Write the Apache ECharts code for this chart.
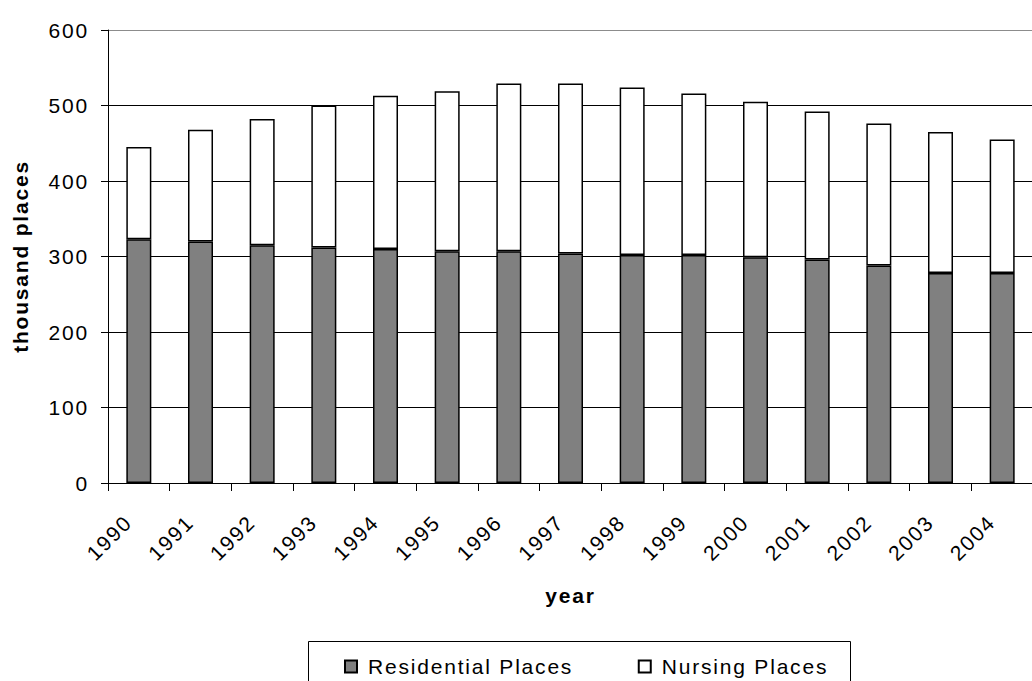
<!DOCTYPE html>
<html>
<head>
<meta charset="utf-8">
<script src="https://cdn.jsdelivr.net/npm/echarts@6/dist/echarts.min.js"></script>
<style>
  html, body { margin: 0; padding: 0; background: #fff; }
  #chart { width: 1032px; height: 681px; }
  /* the original text is set a little loose */
  #chart text { letter-spacing: 1.8px; }
</style>
</head>
<body>
<div id="chart"></div>
<script>
// years on the x axis
var years = ['1990', '1991', '1992', '1993', '1994', '1995', '1996', '1997',
             '1998', '1999', '2000', '2001', '2002', '2003', '2004'];
// thousand places
var residential = [323, 320, 315, 312, 310, 307, 307, 304, 302, 302, 299, 296, 288, 278, 278];
var nursing     = [122, 148, 167, 188, 203, 212, 222, 225, 222, 214, 206, 196, 188, 187, 177];
// y axis ticks
var yMin = 0, yMax = 600, yStep = 100;

var font = 'Liberation Sans, Arial, sans-serif';
var fs = 21;

var chart = echarts.init(document.getElementById('chart'), null, { renderer: 'svg' });

var option = {
    animation: false,
    backgroundColor: '#fff',
    textStyle: { fontFamily: font, color: '#000' },
    grid: {
        left: 108,
        top: 30,
        width: 925,
        height: 453,
        outerBoundsMode: 'none'
    },
    legend: {
        left: 344,
        top: 656,
        padding: 0,
        itemWidth: 12,
        itemHeight: 12,
        itemGap: 97,
        icon: 'rect',
        textStyle: { fontFamily: font, fontSize: fs, color: '#000', padding: [0, 0, 0, 6] },
        data: ['Residential Places', 'Nursing Places']
    },
    graphic: [{
        type: 'rect',
        z: -1,
        shape: { x: 308.5, y: 641.5, width: 542, height: 60 },
        style: { fill: 'none', stroke: '#000', lineWidth: 1 }
    }],
    xAxis: {
        type: 'category',
        data: years,
        name: 'year',
        nameLocation: 'middle',
        nameGap: 102,
        nameMoveOverlap: false,
        nameTextStyle: { fontFamily: font, fontSize: fs, fontWeight: 'bold', color: '#000', verticalAlign: 'top' },
        axisLine: { lineStyle: { color: '#000', width: 1 } },
        axisTick: { show: true, length: 8, lineStyle: { color: '#000' } },
        axisLabel: {
            interval: 0,
            rotate: 45,
            margin: 25,
            padding: [0, 15, 0, 0],
            fontFamily: font,
            fontSize: fs,
            color: '#000'
        },
        splitLine: { show: false }
    },
    yAxis: {
        type: 'value',
        min: yMin,
        max: yMax,
        interval: yStep,
        name: 'thousand places',
        nameLocation: 'middle',
        nameGap: 77,
        nameMoveOverlap: false,
        nameTextStyle: { fontFamily: font, fontSize: fs, fontWeight: 'bold', color: '#000' },
        axisLine: { show: true, lineStyle: { color: '#000', width: 1 } },
        axisTick: { show: true, length: 7, lineStyle: { color: '#000' } },
        axisLabel: { margin: 19, fontFamily: font, fontSize: fs, color: '#000' },
        splitLine: {
            show: true,
            lineStyle: { color: ['#000', '#000', '#000', '#000', '#000', '#000', '#8c8c8c'], width: 1 }
        }
    },
    series: [{
        name: 'Residential Places',
        type: 'bar',
        stack: 'places',
        barWidth: 25,
        data: residential,
        itemStyle: { color: '#808080', borderColor: '#000', borderWidth: 1.5 }
    }, {
        name: 'Nursing Places',
        type: 'bar',
        stack: 'places',
        barWidth: 25,
        data: nursing,
        itemStyle: { color: '#fff', borderColor: '#000', borderWidth: 1.5 }
    }]
};

chart.setOption(option);
</script>
</body>
</html>
